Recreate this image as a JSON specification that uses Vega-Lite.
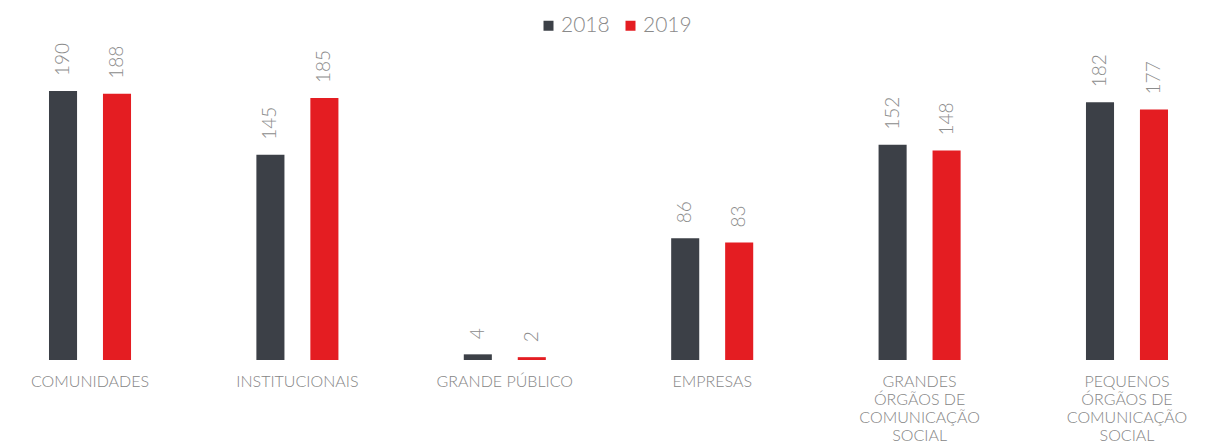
{
  "$schema": "https://vega.github.io/schema/vega-lite/v6.json",
  "autosize": {"type": "none"},
  "padding": {"left": 0, "right": 0, "top": 91, "bottom": 85},
  "width": 1217,
  "height": 269,
  "background": "white",
  "config": {"view": {"stroke": null}, "font": "Lato"},
  "data": {"values": [
    {"categoria": "COMUNIDADES", "ano": "2018", "valor": 190},
    {"categoria": "COMUNIDADES", "ano": "2019", "valor": 188},
    {"categoria": "INSTITUCIONAIS", "ano": "2018", "valor": 145},
    {"categoria": "INSTITUCIONAIS", "ano": "2019", "valor": 185},
    {"categoria": "GRANDE PÚBLICO", "ano": "2018", "valor": 4},
    {"categoria": "GRANDE PÚBLICO", "ano": "2019", "valor": 2},
    {"categoria": "EMPRESAS", "ano": "2018", "valor": 86},
    {"categoria": "EMPRESAS", "ano": "2019", "valor": 83},
    {"categoria": "GRANDES ÓRGÃOS DE COMUNICAÇÃO SOCIAL", "ano": "2018", "valor": 152},
    {"categoria": "GRANDES ÓRGÃOS DE COMUNICAÇÃO SOCIAL", "ano": "2019", "valor": 148},
    {"categoria": "PEQUENOS ÓRGÃOS DE COMUNICAÇÃO SOCIAL", "ano": "2018", "valor": 182},
    {"categoria": "PEQUENOS ÓRGÃOS DE COMUNICAÇÃO SOCIAL", "ano": "2019", "valor": 177}
  ]},
  "encoding": {
    "x": {
      "field": "categoria", "type": "nominal", "sort": null,
      "scale": {"paddingInner": 0.2, "paddingOuter": 0.034},
      "axis": {
        "title": null, "domain": false, "ticks": false, "labelAngle": 0,
        "labelPadding": 13, "labelFontSize": 16, "labelColor": "#858585",
        "labelFont": "Lato", "labelFontWeight": 300, "labelLineHeight": 18,
        "labelBaseline": "top",
        "labelExpr": "datum.label == 'GRANDES ÓRGÃOS DE COMUNICAÇÃO SOCIAL' ? ['GRANDES', 'ÓRGÃOS DE', 'COMUNICAÇÃO', 'SOCIAL'] : datum.label == 'PEQUENOS ÓRGÃOS DE COMUNICAÇÃO SOCIAL' ? ['PEQUENOS', 'ÓRGÃOS DE', 'COMUNICAÇÃO', 'SOCIAL'] : datum.label"
      }
    },
    "xOffset": {
      "field": "ano", "type": "nominal",
      "scale": {"paddingInner": 0.48, "paddingOuter": 0.777}
    },
    "y": {
      "field": "valor", "type": "quantitative",
      "scale": {"domain": [0, 190], "nice": false},
      "axis": null
    }
  },
  "layer": [
    {
      "mark": {"type": "bar"},
      "encoding": {
        "color": {
          "field": "ano", "type": "nominal",
          "scale": {"domain": ["2018", "2019"], "range": ["#3c4047", "#e41d22"]},
          "legend": {
            "title": null, "orient": "none", "direction": "horizontal",
            "legendX": 538, "legendY": -76,
            "symbolType": "square", "symbolSize": 100, "symbolStrokeWidth": 0,
            "labelFontSize": 21, "labelColor": "#8a8a8a", "labelFont": "Lato",
            "labelFontWeight": 300, "labelOffset": 2, "columnPadding": 10
          }
        }
      }
    },
    {
      "mark": {
        "type": "text", "angle": 270, "align": "left", "baseline": "middle",
        "dx": 15, "fontSize": 19, "font": "Lato", "fontWeight": 300, "color": "#8c8c8c"
      },
      "encoding": {"text": {"field": "valor", "type": "quantitative"}}
    }
  ]
}
